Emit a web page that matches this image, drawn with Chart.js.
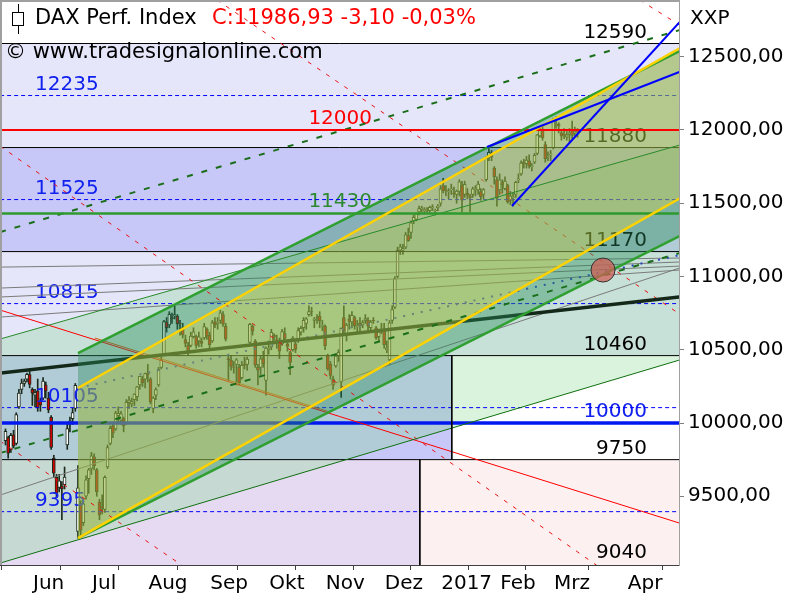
<!DOCTYPE html>
<html>
<head>
<meta charset="utf-8">
<script src="https://cdn.jsdelivr.net/npm/chart.js@4.4.0/dist/chart.umd.min.js"></script>
<style>
  html, body { margin: 0; background: #fff; }
</style>
</head>
<body>
<canvas id="dax" width="800" height="600"></canvas>
<script>
// daily DAX candles, 18 May 2016 .. 14 Mar 2017 (x = bar number)
const opens = [
  9880,9900,9820,9920,9860,10110,10230,10270,10300,10330,
  10230,10190,10220,10150,10170,10260,10170,10040,9760,9630,9560,9570,9580,9850,9990,10030,10100,9260,9450,9320,9500,9620,
  9690,9770,9680,9460,9430,9410,9700,9860,9980,9960,10050,10020,10030,10000,10140,10130,10160,10180,10260,10300,10300,
  10340,10300,10100,10190,10260,10380,10470,10690,10670,10720,10730,10730,10680,10650,10570,10530,10530,10590,10590,10560,10560,10580,10640,
  10600,10560,10690,10680,10700,10740,10660,10440,10430,10380,10400,10380,10310,10400,10400,10550,10660,10560,10380,10380,10440,10290,
  10500,10520,10600,10570,10550,10540,10610,10540,10480,10500,10540,10560,10620,10650,10680,10740,10760,10700,10720,10730,10660,
  10660,10460,10400,10300,10390,10460,10280,10720,10600,10710,10690,10720,10660,10680,10670,10700,10700,10650,10700,10650,10590,10640,
  10640,10500,10430,10700,10790,11000,11180,11180,11200,11280,11300,11380,11390,11440,11460,11450,11450,11450,11470,11450,11470,
  11500,11620,11590,11580,11590,11570,11560,11580,11620,11560,11570,11550,11560,11590,11590,11580,11560,11660,11810,11840,11740,11660,
  11590,11640,11600,11620,11520,11540,11560,11660,11700,11780,11770,11790,11750,11780,11840,11960,12000,11900,11820,11830,
  11880,12060,12040,11980,11970,11950,11970,12000,11980,11990
];
const highs = [
  9960,9910,9930,9950,10070,10230,10300,10300,10340,10370,
  10240,10230,10300,10170,10310,10280,10210,10050,9780,9650,9650,9600,9700,10000,10040,10100,10270,9710,9470,9470,9640,9690,
  9800,9790,9690,9480,9510,9640,9850,9980,10000,10080,10110,10080,10040,10160,10180,10170,10200,10250,10320,10320,10340,
  10400,10310,10180,10240,10380,10450,10700,10720,10760,10750,10800,10740,10700,10680,10600,10550,10620,10650,10600,10620,10580,10680,10650,
  10620,10700,10720,10720,10770,10760,10680,10460,10460,10420,10440,10400,10420,10450,10450,10680,10670,10570,10400,10460,10490,10520,
  10560,10640,10610,10600,10580,10640,10650,10560,10490,10590,10560,10650,10660,10720,10720,10800,10790,10720,10740,10760,10700,
  10670,10470,10420,10320,10470,10500,10650,10800,10680,10740,10760,10730,10700,10720,10700,10740,10720,10700,10720,10660,10640,10680,
  10680,10560,10700,10800,11000,11200,11220,11220,11300,11330,11380,11420,11430,11480,11480,11470,11470,11480,11490,11460,11490,
  11620,11670,11620,11600,11630,11610,11590,11660,11650,11650,11600,11560,11610,11620,11650,11600,11600,11820,11890,11860,11750,11680,
  11700,11660,11680,11630,11580,11570,11650,11700,11790,11800,11820,11830,11770,11840,11970,12020,12030,11920,11850,11860,
  12080,12090,12050,12000,12010,11990,12010,12060,12020,12010
];
const lows = [
  9850,9760,9800,9830,9850,10100,10200,10250,10280,10240,
  10120,10110,10080,10080,10160,10170,10070,9820,9630,9490,9530,9340,9550,9820,9940,9990,10080,9214,9230,9300,9480,9520,
  9650,9680,9500,9340,9380,9390,9690,9850,9900,9950,10000,9990,9940,9990,10100,10110,10120,10150,10230,10250,10240,
  10280,10130,10070,10160,10250,10370,10460,10620,10650,10680,10710,10640,10600,10580,10520,10460,10520,10580,10510,10520,10520,10570,10570,
  10500,10550,10650,10640,10680,10660,10560,10290,10360,10340,10260,10260,10300,10370,10360,10540,10600,10380,10260,10330,10380,10190,
  10470,10500,10540,10510,10440,10530,10560,10490,10330,10490,10480,10550,10600,10620,10640,10730,10730,10650,10680,10650,10630,
  10500,10360,10300,10230,10380,10420,10175,10600,10560,10640,10650,10640,10620,10620,10650,10680,10620,10630,10680,10570,10560,10610,
  10510,10480,10400,10680,10780,10990,11150,11150,11190,11240,11260,11360,11380,11420,11440,11430,11430,11440,11450,11420,11450,
  11480,11570,11550,11530,11560,11540,11500,11550,11440,11540,11530,11440,11540,11550,11560,11520,11530,11650,11790,11790,11630,11480,
  11560,11570,11590,11500,11490,11480,11540,11640,11690,11740,11740,11740,11720,11770,11830,11950,11930,11780,11790,11790,
  11870,12010,11980,11930,11940,11930,11920,11940,11960,11950
];
const closes = [
  9943,9795,9916,9842,10057,10205,10272,10286,10333,10263,
  10204,10208,10103,10121,10287,10218,10089,9834,9657,9519,9606,9550,9631,9962,10015,10071,10257,9557,9268,9448,9612,9680,
  9776,9709,9532,9373,9418,9629,9833,9964,9930,10068,10066,10063,9981,10142,10156,10147,10198,10247,10319,10275,10337,
  10330,10144,10170,10228,10367,10432,10693,10651,10742,10713,10740,10677,10679,10603,10544,10494,10593,10622,10530,10588,10544,10658,10593,
  10534,10684,10672,10687,10752,10675,10573,10432,10386,10379,10431,10276,10393,10394,10436,10674,10626,10394,10361,10438,10405,10511,
  10511,10619,10585,10568,10490,10624,10577,10523,10414,10580,10503,10631,10646,10701,10711,10761,10758,10709,10717,10696,10665,
  10526,10370,10325,10259,10456,10482,10646,10630,10668,10693,10735,10664,10663,10664,10685,10713,10662,10689,10699,10582,10620,10640,
  10534,10513,10684,10775,10986,11179,11203,11190,11284,11244,11366,11404,11427,11464,11468,11456,11450,11472,11475,11451,11481,
  11599,11584,11585,11584,11599,11563,11583,11646,11521,11629,11555,11540,11599,11597,11630,11545,11594,11806,11848,11814,11681,11535,
  11659,11627,11651,11509,11549,11543,11643,11666,11774,11771,11794,11757,11757,11827,11967,11998,11948,11804,11822,11834,
  12067,12060,12027,11958,11966,11967,11978,11963,11990,11987
];

const monthTicks = [9.5, 31.5, 52.5, 75.5, 97.5, 118.5, 140.5, 161.5, 183.5, 203.5, 231];
const monthLabels = ['Jun', 'Jul', 'Aug', 'Sep', 'Okt', 'Nov', 'Dez', '2017', 'Feb', 'Mrz', 'Apr'];
const priceTicks = [9500, 10000, 10500, 11000, 11500, 12000, 12500];

// horizontal levels
const blackLevels = [12590, 11880, 11170, 10460, 9750];
const blueDashLevels = [12235, 11525, 10815, 10105, 9395];
const redLevel = 12000;
const greenLevel = 11430;
const blueLevel = 10000;

// boxes behind the chart (price from / to, bar from / to)
const bandTops = [12590, 11880, 11170, 10460, 10460, 9750, 9750];
const bandBottoms = [11880, 11170, 10460, 9750, 9750, 8900, 8900];
const bandStarts = [-2, -2, -2, -2, 166.2, -2, 154.3];
const bandEnds = [251, 251, 251, 166.2, 251, 154.3, 251];

// trendlines: [bar, price] end points
const greenChanLow = [[27, 9214], [251, 11275]];
const greenChanHigh = [[27, 10477], [251, 12538]];
const yellowChanLow = [[27, 9214], [251, 11532]];
const yellowChanHigh = [[27, 10239], [251, 12557]];
const dashGreenHigh = [[-2, 11303], [251, 12682]];
const thinGreen = [[-2, 10573], [251, 11897]];
const dashGreenLow = [[-2, 9795], [251, 11160]];
const thinDarkGreen = [[-2, 9044], [251, 10430]];
const regression = [[-2, 10341], [251, 10860]];
const blueDotted = [[27, 10239], [251, 11146]];
const redSolid = [[-2, 10771], [251, 9317]];
const redDashA = [[-2, 11890], [251, 8631]];
const redDashB = [[78.75, 12887], [251, 10744]];
const redDashC = [[-2, 9877], [80, 8850]];
const redDashD = [[236.2, 12887], [251, 12716]];
const orangeLine = [[33.3, 10580], [120.8, 10075]];
const blueUpper = [[179.3, 11884], [251, 12396]];
const blueSteep = [[188.6, 11481], [251, 12735]];
const fanLines = [
  [[-2, 11064], [251, 11126]],
  [[-2, 10921], [251, 11099]],
  [[-2, 10860], [251, 11071]],
  [[-2, 10723], [251, 11044]]
];
const grayLine = [[-2, 9508], [251, 11058]];
const marker = [[222.5, 11044]];

const leftLabels = [12235, 11525, 10815, 10105, 9395];
const midLabels = [12000, 11430];
const rightLabels = [12590, 11880, 11170, 10460, 10000, 9750, 9040];

const X0 = -2, X1 = 251;
const FONT = '"DejaVu Sans", Verdana, sans-serif';

function seg(pts, style) {
  return Object.assign({
    type: 'line',
    data: pts.map(p => ({ x: p[0], y: p[1] })),
    pointRadius: 0,
    borderWidth: 1,
    tension: 0,
    fill: false
  }, style);
}
const flat = (lvl) => [[X0, lvl], [X1, lvl]];
const none = 'rgba(0,0,0,0)';

const datasets = [];
// teal band between the thin green lines (under the candles)
datasets.push(seg(thinGreen, { borderColor: none, fill: '+1', backgroundColor: 'rgba(130,215,140,0.3)', order: 30 }));
datasets.push(seg(thinDarkGreen, { borderColor: none, order: 30 }));

// candles
datasets.push({
  type: 'bar',
  data: lows.map((l, i) => ({ x: i, y: [l, highs[i]] })),
  backgroundColor: '#1c2a1c',
  barThickness: 1,
  grouped: false,
  order: 29
});
const BODY_INDEX = datasets.length;
datasets.push({
  type: 'bar',
  data: opens.map((o, i) => ({ x: i, y: [o, closes[i]] })),
  backgroundColor: c => closes[c.dataIndex] >= opens[c.dataIndex] ? '#ffffff' : '#d00000',
  borderColor: '#1c2a1c',
  borderWidth: 1,
  borderSkipped: false,
  barThickness: 3,
  grouped: false,
  order: 28
});

// lines that sit under the channel fill
blackLevels.forEach(l => datasets.push(seg(flat(l), { borderColor: '#000000', order: 27 })));
blueDashLevels.forEach(l => datasets.push(seg(flat(l), { borderColor: '#0000ff', borderDash: [4, 3], order: 27 })));
datasets.push(seg(flat(blueLevel), { borderColor: '#0018f0', borderWidth: 3.5, order: 27 }));
fanLines.forEach(f => datasets.push(seg(f, { borderColor: '#7a7a7a', order: 26 })));
datasets.push(seg(grayLine, { borderColor: '#7a7a7a', order: 26 }));
datasets.push(seg(regression, { borderColor: '#14281a', borderWidth: 3.5, order: 25 }));
datasets.push(seg(blueDotted, { borderColor: '#2a44c8', borderWidth: 2, borderDash: [2, 7], order: 25 }));
datasets.push(seg(redSolid, { borderColor: '#ff0000', order: 25 }));
datasets.push(seg(orangeLine, { borderColor: '#d05a14', order: 25 }));
datasets.push(seg(redDashB, { borderColor: '#e81010', borderDash: [4, 7], order: 25 }));

// channel fills
datasets.push(seg(greenChanHigh, { borderColor: none, fill: '+1', backgroundColor: 'rgba(40,140,90,0.4)', order: 20 }));
datasets.push(seg(greenChanLow, { borderColor: none, order: 20 }));
datasets.push(seg(yellowChanHigh, { borderColor: none, fill: '+1', backgroundColor: 'rgba(245,220,40,0.3)', order: 19 }));
datasets.push(seg(yellowChanLow, { borderColor: none, order: 19 }));

// lines on top
datasets.push(seg(thinGreen, { borderColor: '#2a8a2a', order: 9 }));
datasets.push(seg(thinDarkGreen, { borderColor: '#107010', order: 9 }));
datasets.push(seg(dashGreenHigh, { borderColor: '#1a6e1a', borderWidth: 2, borderDash: [6, 9], order: 9 }));
datasets.push(seg(dashGreenLow, { borderColor: '#1a6e1a', borderWidth: 2, borderDash: [6, 9], order: 9 }));
datasets.push(seg(redDashA, { borderColor: '#e81010', borderDash: [4, 7], order: 9 }));
datasets.push(seg(redDashC, { borderColor: '#e81010', borderDash: [4, 7], order: 9 }));
datasets.push(seg(redDashD, { borderColor: '#e81010', borderDash: [4, 7], order: 9 }));
datasets.push(seg(flat(redLevel), { borderColor: '#ff0000', borderWidth: 2, order: 8 }));
datasets.push(seg(flat(greenLevel), { borderColor: '#2e9a2e', borderWidth: 2.5, order: 8 }));
datasets.push(seg(greenChanHigh, { borderColor: '#2f9f2f', borderWidth: 2.5, order: 7 }));
datasets.push(seg(greenChanLow, { borderColor: '#2f9f2f', borderWidth: 2.5, order: 7 }));
datasets.push(seg(yellowChanHigh, { borderColor: '#ffd200', borderWidth: 2.5, order: 6 }));
datasets.push(seg(yellowChanLow, { borderColor: '#ffd200', borderWidth: 2.5, order: 6 }));
datasets.push(seg(blueUpper, { borderColor: '#0000ff', borderWidth: 2, order: 5 }));
datasets.push(seg(blueSteep, { borderColor: '#0000ff', borderWidth: 2, order: 5 }));
datasets.push(seg([[bandStarts[4], 10460], [bandStarts[4], 9750]], { borderColor: '#000000', order: 5 }));
datasets.push(seg([[bandStarts[6], 9750], [bandStarts[6], 8900]], { borderColor: '#000000', order: 5 }));
datasets.push(seg(marker, {
  showLine: false, pointRadius: 12, pointBackgroundColor: 'rgba(205,95,85,0.75)',
  pointBorderColor: '#333333', pointBorderWidth: 1, order: 1
}));

const bandColors = ['#e6e6fa', '#c8c8f8', '#e6e6fa', '#c8c8f8', '#ffffff', '#e6daf2', '#fdf0f0'];

const backdrop = {
  id: 'backdrop',
  beforeDatasetsDraw(chart) {
    const { ctx, chartArea: a, scales: { x, y } } = chart;
    ctx.save();
    ctx.beginPath();
    ctx.rect(a.left, a.top, a.width, a.height);
    ctx.clip();
    bandTops.forEach((t, i) => {
      const l = x.getPixelForValue(bandStarts[i]);
      const r = x.getPixelForValue(bandEnds[i]);
      const top = y.getPixelForValue(t);
      const bot = y.getPixelForValue(bandBottoms[i]);
      ctx.fillStyle = bandColors[i];
      ctx.fillRect(l, top, r - l, bot - top);
    });
    ctx.restore();
  },
  // level labels sit above the candles but under the channel fills
  afterDatasetDraw(chart, args) {
    if (args.index !== BODY_INDEX) return;
    const { ctx, chartArea: a, scales: { y } } = chart;
    ctx.save();
    ctx.beginPath();
    ctx.rect(a.left, a.top, a.width, a.height);
    ctx.clip();
    ctx.font = '20px ' + FONT;
    ctx.textBaseline = 'alphabetic';
    ctx.textAlign = 'left';
    ctx.fillStyle = '#1020ee';
    leftLabels.forEach(v => ctx.fillText(String(v), 35, y.getPixelForValue(v) - 6));
    ctx.textAlign = 'right';
    ctx.fillStyle = '#ff0000';
    ctx.fillText(String(midLabels[0]), 372, y.getPixelForValue(midLabels[0]) - 6);
    ctx.fillStyle = '#2e8a2e';
    ctx.fillText(String(midLabels[1]), 372, y.getPixelForValue(midLabels[1]) - 6);
    rightLabels.forEach(v => {
      ctx.fillStyle = v === blueLevel ? '#1020ee' : '#000000';
      ctx.fillText(String(v), 647, y.getPixelForValue(v) - 6);
    });
    ctx.restore();
  },
  afterDraw(chart) {
    const { ctx, chartArea: a } = chart;
    ctx.save();
    ctx.strokeStyle = '#a0a0a0';
    ctx.lineWidth = 2;
    ctx.beginPath();
    ctx.moveTo(1, a.bottom); ctx.lineTo(1, 1); ctx.lineTo(a.right, 1);
    ctx.stroke();
    // candle icon
    ctx.lineWidth = 1;
    ctx.strokeStyle = '#000';
    ctx.strokeRect(12.5, 12.5, 11, 13);
    ctx.beginPath();
    ctx.moveTo(18.5, 4); ctx.lineTo(18.5, 12.5);
    ctx.moveTo(18.5, 25.5); ctx.lineTo(18.5, 34);
    ctx.stroke();
    ctx.font = '21px ' + FONT;
    ctx.textBaseline = 'middle';
    ctx.textAlign = 'left';
    ctx.fillStyle = '#000';
    ctx.fillText('DAX Perf. Index', 35, 19);
    ctx.fillStyle = '#ff0000';
    ctx.fillText('C:11986,93 -3,10 -0,03%', 212, 19);
    ctx.fillStyle = '#000';
    ctx.fillText('\u00a9 www.tradesignalonline.com', 5, 53);
    ctx.font = '20px ' + FONT;
    ctx.fillText('XXP', 690, 19);
    ctx.restore();
  }
};

new Chart(document.getElementById('dax'), {
  type: 'bar',
  data: { datasets },
  options: {
    responsive: false,
    animation: false,
    layout: { autoPadding: false, padding: { left: 1, top: 0, right: 0, bottom: 0 } },
    plugins: { legend: { display: false }, tooltip: { enabled: false } },
    scales: {
      x: {
        type: 'linear',
        offset: false,
        min: -1.67,
        max: 250.8,
        afterBuildTicks: s => { s.ticks = monthTicks.map(v => ({ value: v })); },
        afterFit: s => { s.height = 35; s.paddingLeft = 0; s.paddingRight = 0; },
        grid: { drawOnChartArea: false, tickLength: 5, tickColor: '#404040' },
        border: { color: '#404040', width: 2 },
        ticks: {
          autoSkip: false, maxRotation: 0, align: 'start', labelOffset: 2, padding: 2,
          color: '#000', font: { family: FONT, size: 20 },
          callback: (v, i) => monthLabels[i]
        }
      },
      y: {
        type: 'linear',
        position: 'right',
        min: 9031,
        max: 12887,
        afterBuildTicks: s => { s.ticks = priceTicks.map(v => ({ value: v })); },
        afterFit: s => { s.width = 121; s.paddingTop = 0; s.paddingBottom = 0; },
        grid: { drawOnChartArea: false, tickLength: 5, tickColor: '#808080' },
        border: { color: '#a0a0a0' },
        ticks: {
          padding: 4, color: '#000', font: { family: FONT, size: 20 },
          callback: v => v + ',00'
        }
      }
    }
  },
  plugins: [backdrop]
});
</script>
</body>
</html>
